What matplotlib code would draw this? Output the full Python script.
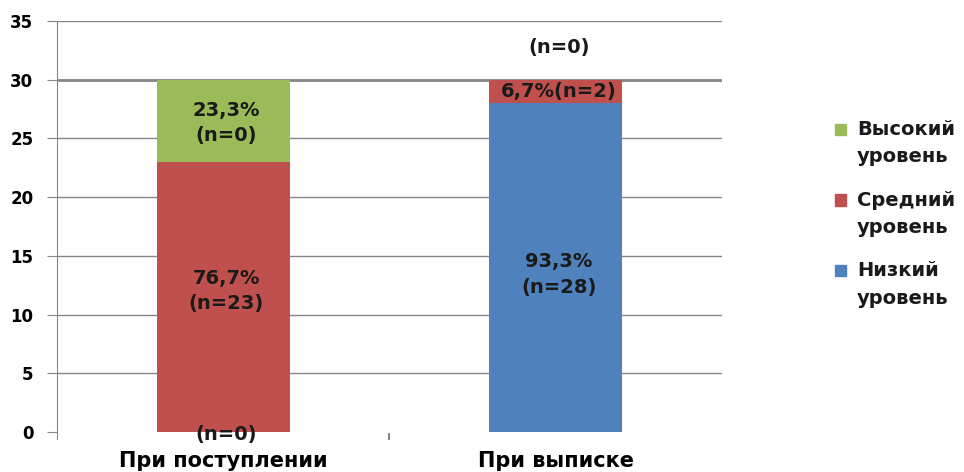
import numpy as np
import matplotlib
matplotlib.use("Agg")
import matplotlib.pyplot as plt
from matplotlib.patches import Rectangle

categories = ["При поступлении", "При выписке"]
series_names = ["Низкий уровень", "Средний уровень", "Высокий уровень"]
low = [0, 28]
mid = [23, 2]
high = [7, 0]
colors = ["#4F81BD", "#C0504D", "#9BBB59"]

# labels: (category index, y value, text)
labels = [
    (0, 26.3, "23,3%\n(n=0)"),
    (0, 12.0, "76,7%\n(n=23)"),
    (0, -0.2, "(n=0)"),
    (1, 13.4, "93,3%\n(n=28)"),
    (1, 29.0, "6,7%(n=2)"),
    (1, 32.7, "(n=0)"),
]

plt.rcParams['font.family'] = ['DejaVu Sans']
plt.rcParams['font.weight'] = 'bold'

fig = plt.figure(figsize=(9.64, 4.72), dpi=100)
ax = fig.add_axes([0.059, 0.0847, 0.69, 0.871])

x = np.arange(len(categories))
width = 0.4
bottom = np.zeros(len(categories))
for vals, name, c in zip([low, mid, high], series_names, colors):
    ax.bar(x, vals, width, bottom=bottom, color=c, label=name, zorder=3)
    bottom += np.array(vals)

for i, yv, txt in labels:
    ax.text(x[i] + 0.01, yv, txt, ha="center", va="center", fontsize=14,
            fontweight="bold", color="#1a1a1a", linespacing=1.45, zorder=4)

ax.set_xlim(-0.5, 1.5)
ax.set_ylim(0, 35)
ax.set_yticks(range(0, 36, 5))
ax.set_xticks(x)
ax.set_xticklabels(categories, fontsize=15, fontweight="bold")
ax.tick_params(axis="x", length=0, pad=14)
ax.tick_params(axis="y", length=7, color="#868686", labelsize=12, pad=10)
for lab in ax.get_yticklabels():
    lab.set_fontweight("bold")

# separator tick between categories
ax.plot([0.5, 0.5], [-0.2, -0.6], color="#868686", lw=1.5, clip_on=False)

for yv in range(5, 36, 5):
    ax.axhline(yv, color="#868686", lw=2.0 if yv == 30 else 1.0, zorder=1)

for s in ["top", "right", "bottom"]:
    ax.spines[s].set_visible(False)
ax.spines["left"].set_color("#868686")
ax.spines["left"].set_bounds(-0.6, 35)

# legend: square aligned with the first line of each two-line entry
W, H = 964, 472
for k, (name, c) in enumerate(zip(series_names[::-1], colors[::-1])):
    y_first = 130 + k * 70.5
    fig.patches.append(Rectangle((835 / W, 1 - (y_first + 5) / H), 11 / W, 11 / H,
                                 transform=fig.transFigure, color=c))
    word, level = name.split(" ")
    fig.text(857 / W, 1 - y_first / H, word, ha="left", va="center",
             fontsize=14, fontweight="bold", color="#1a1a1a")
    fig.text(857 / W, 1 - (y_first + 27) / H, level, ha="left", va="center",
             fontsize=14, fontweight="bold", color="#1a1a1a")

fig.savefig("out.png", dpi=100)
